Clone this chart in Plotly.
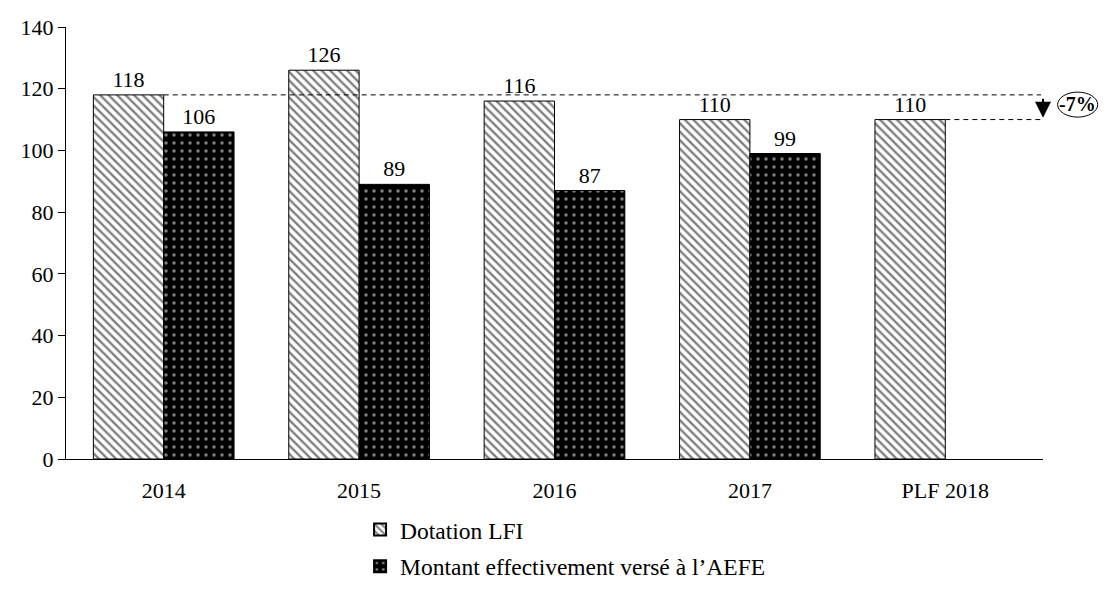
import plotly.graph_objects as go

categories = ["2014", "2015", "2016", "2017", "PLF 2018"]
dotation_lfi = [118, 126, 116, 110, 110]
montant_aefe = [106, 89, 87, 99, None]
y_ticks = [0, 20, 40, 60, 80, 100, 120, 140]

FONT = "Liberation Serif"
FS = 22

fig = go.Figure()
fig.add_trace(go.Bar(
    x=categories, y=dotation_lfi, name="Dotation LFI",
    legendgroup="a",
    marker=dict(color="white", line=dict(color="black", width=1),
                pattern=dict(shape="\\", fgcolor="black", bgcolor="white", size=6, solidity=0.4)),
    text=[str(v) for v in dotation_lfi], textposition="outside",
    textfont=dict(family=FONT, size=FS, color="black"), cliponaxis=False,
))
fig.add_trace(go.Bar(
    x=categories, y=montant_aefe, name="Montant effectivement versé à l’AEFE",
    legendgroup="b",
    marker=dict(color="black", line=dict(color="black", width=1),
                pattern=dict(shape=".", fgcolor="white", bgcolor="black", size=8, solidity=0.15)),
    text=[("" if v is None else str(v)) for v in montant_aefe], textposition="outside",
    textfont=dict(family=FONT, size=FS, color="black"), cliponaxis=False,
))

# dashed reference lines
fig.add_shape(type="line", xref="x", yref="y", x0=0, x1=4.49, y0=dotation_lfi[0], y1=dotation_lfi[0],
              line=dict(color="black", width=1, dash="5px,4px"))
fig.add_shape(type="line", xref="x", yref="y", x0=4, x1=4.49, y0=dotation_lfi[4], y1=dotation_lfi[4],
              line=dict(color="black", width=1, dash="5px,4px"))
# arrow
fig.add_annotation(x=4.5, y=dotation_lfi[4] + 0.6, ax=4.5, ay=dotation_lfi[0] - 0.8,
                   xref="x", yref="y", axref="x", ayref="y", text="",
                   showarrow=True, arrowhead=2, arrowsize=1.6, arrowwidth=2, arrowcolor="black")
# ellipse with -7%
fig.add_shape(type="circle", xref="paper", yref="y", x0=1.015, x1=1.056, y0=110.8, y1=118.9,
              line=dict(color="black", width=1))
pct = round((dotation_lfi[4] - dotation_lfi[0]) / dotation_lfi[0] * 100)
fig.add_annotation(x=1.0355, y=114.9, xref="paper", yref="y", text=f"<b>{pct}%</b>", showarrow=False,
                   xanchor="center", yanchor="middle",
                   font=dict(family=FONT, size=20, color="black"))

fig.update_layout(
    width=1105, height=598,
    margin=dict(l=58, r=70, t=19, b=147, autoexpand=False),
    plot_bgcolor="white", paper_bgcolor="white",
    barmode="group", bargap=0.28, bargroupgap=0,
    font=dict(family=FONT, size=FS, color="black"),
    showlegend=True,
    legend=dict(orientation="v", x=0.301, xanchor="left", y=-0.113, yanchor="top",
                tracegroupgap=3, font=dict(family=FONT, size=23.5, color="black"),
                itemsizing="constant"),
)
fig.update_xaxes(showline=True, linecolor="black", linewidth=1, ticks="", showgrid=False,
                 tickfont=dict(family=FONT, size=FS), range=[-0.5, 4.5], ticklabelstandoff=12)
fig.update_yaxes(range=[0, 140], tickvals=y_ticks, showline=True, linecolor="black", linewidth=1,
                 ticks="outside", ticklen=7, tickcolor="black", showgrid=False, zeroline=False,
                 tickfont=dict(family=FONT, size=FS))

fig.write_html("out.html")
